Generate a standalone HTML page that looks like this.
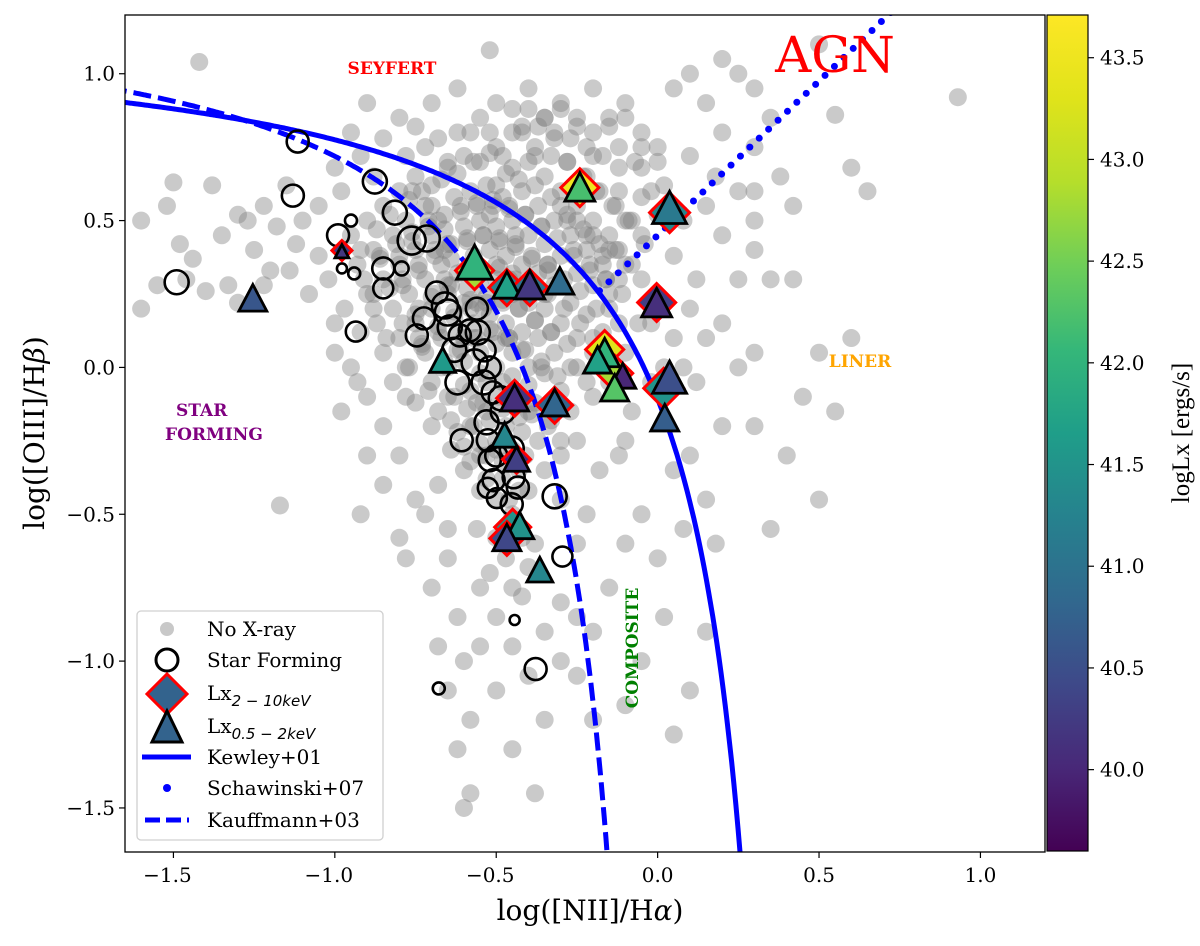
<!DOCTYPE html>
<html><head><meta charset="utf-8">
<style>
html,body{margin:0;padding:0;background:#fff;}
svg{display:block;font-family:"DejaVu Serif","Liberation Serif",serif;}
</style></head>
<body>
<svg id="chart" width="1200" height="946" viewBox="0 0 1200 946">
<defs>
<clipPath id="plotclip"><rect x="125" y="15" width="920" height="837"/></clipPath>
<linearGradient id="viridis" x1="0" y1="1" x2="0" y2="0">
<stop offset="0" stop-color="#440154"/><stop offset="0.1" stop-color="#482878"/><stop offset="0.2" stop-color="#3e4989"/>
<stop offset="0.3" stop-color="#31688e"/><stop offset="0.4" stop-color="#26828e"/><stop offset="0.5" stop-color="#1f9e89"/>
<stop offset="0.6" stop-color="#35b779"/><stop offset="0.7" stop-color="#6ece58"/><stop offset="0.8" stop-color="#b5de2b"/>
<stop offset="0.9" stop-color="#e0e31a"/><stop offset="1" stop-color="#fde725"/>
</linearGradient>
</defs>
<rect x="125" y="15" width="920" height="837" fill="#fff"/>
<g id="plot" clip-path="url(#plotclip)"></g>
<rect x="125" y="15" width="920" height="837" fill="none" stroke="#000" stroke-width="1.3"/>
<g id="axes"></g>
<g font-weight="bold">
<text x="392" y="74" fill="#ff0000" style="font-size:17px" text-anchor="middle">SEYFERT</text>
<text x="835" y="72" fill="#ff0000" style="font-size:50px" font-weight="normal" text-anchor="middle">AGN</text>
<text x="860" y="367" fill="#ffa500" style="font-size:17px" text-anchor="middle">LINER</text>
<text x="176" y="416" fill="#800080" style="font-size:17px">STAR</text>
<text x="165" y="440" fill="#800080" style="font-size:17px">FORMING</text>
<text transform="translate(638,648) rotate(-90)" fill="#008000" style="font-size:17px" text-anchor="middle">COMPOSITE</text>
</g>
<g id="legend" style="font-size:20px">
<rect x="137" y="611" width="246" height="229" rx="4" fill="#fff" fill-opacity="0.85" stroke="#d0d0d0" stroke-width="1.3"/>
<circle cx="167" cy="629" r="7" fill="#c8c8c8"/>
<text x="207" y="636">No X-ray</text>
<circle cx="167" cy="660" r="11" fill="none" stroke="#000" stroke-width="3"/>
<text x="207" y="667">Star Forming</text>
<polygon points="167,674 187,694 167,714 147,694" fill="#33638d" stroke="#ff0000" stroke-width="3"/>
<text x="207" y="700">Lx<tspan style="font-size:15px" dy="6" font-style="italic" font-family="DejaVu Sans, sans-serif">2 − 10keV</tspan></text>
<polygon points="167,711 182,742 152,742" fill="#33638d" stroke="#000" stroke-width="3"/>
<text x="207" y="733">Lx<tspan style="font-size:15px" dy="6" font-style="italic" font-family="DejaVu Sans, sans-serif">0.5 − 2keV</tspan></text>
<line x1="142" y1="757" x2="191" y2="757" stroke="#0000ff" stroke-width="5"/>
<text x="207" y="764">Kewley+01</text>
<circle cx="167" cy="788" r="4" fill="#0000ff"/>
<text x="207" y="795">Schawinski+07</text>
<line x1="145" y1="820" x2="189" y2="820" stroke="#0000ff" stroke-width="5" stroke-dasharray="15,6"/>
<text x="207" y="827">Kauffmann+03</text>
</g>
<rect x="1047" y="15" width="41" height="836" fill="url(#viridis)" stroke="#000" stroke-width="1.2"/>
<g id="cbar" font-family="DejaVu Serif, serif"></g>
<text transform="translate(1189,433) rotate(-90)" style="font-size:25px" text-anchor="middle" font-family="Liberation Serif, serif">logLx [ergs/s]</text>
<text x="590" y="920" style="font-size:28px" text-anchor="middle">log([NII]/H<tspan font-style="italic">α</tspan>)</text>
<text transform="translate(44,433) rotate(-90)" style="font-size:28px" text-anchor="middle">log([OIII]/H<tspan font-style="italic">β</tspan>)</text>
</svg>
<script>
const xTicks=[-1.5,-1.0,-0.5,0.0,0.5,1.0];
const yTicks=[-1.5,-1.0,-0.5,0.0,0.5,1.0];
const cTicks=[40.0,40.5,41.0,41.5,42.0,42.5,43.0,43.5];
const grayX=[-1.6,-1.5,-1.48,-1.52,-1.44,-1.38,-1.35,-1.3,-1.25,-1.22,-1.2,-1.18,-1.15,-1.12,-1.46,-1.4,-1.3,-1.6,-1.42,-1.33,-1.27,-1.22,-1.14,-1.1,-1.05,-1.05,-1.08,-1.0,-1.02,-1.17,-1.55,
-0.9,-0.8,-0.7,-0.62,-0.55,-0.5,-0.45,-0.4,-0.35,-0.3,-0.25,-0.2,-0.15,-0.1,-0.05,0,0.05,0.1,0.15,0.2,0.25,0.3,0.35,0.3,0.38,0.3,0.42,0.55,0.6,0.65,0.93,0.5,-0.52,-0.58,-0.68,-0.75,-0.85,-0.92,-0.65,-0.48,-0.38,-0.28,-0.2,-0.12,-0.05,0.02,0.1,0.2,0.3,0.3,0.35,0.25,0.15,0.12,0.2,0.42,0.3,0.25,0.3,0.45,0.55,0.5,0.6,0.4,0.5,0.35,0.18,0.15,0.1,0.2,0.05,0.08,0.0,0.02,0.15,0.1,0.05,-0.05,-0.1,-0.15,-0.05,-0.1,-0.2,-0.25,-0.3,-0.3,-0.25,-0.35,-0.4,-0.45,-0.38,-0.5,-0.55,-0.6,-0.62,-0.58,-0.6,-0.7,-0.65,-0.55,-0.5,-0.45,-0.42,-0.35,-0.2,-0.18,-0.22,-0.12,-0.08,-0.02,-0.02,-0.05,-0.1,-0.15,-0.2,-0.25,-0.2,-0.25,-0.3,-0.3,-0.25,-0.12,-0.05,0.05,0.12,0.1,0.05,0.02,0.08,-0.75,-0.8,-0.85,-0.9,-0.78,-0.7,-0.72,-0.68,-0.65,-0.8,-0.95,-1.0,-0.92,-0.88,
-0.95,-0.9,-0.85,-0.8,-0.75,-0.7,-0.65,-0.6,-0.55,-0.5,-0.45,-0.4,-0.35,-0.3,-0.25,-0.2,-0.15,-0.1,
-0.93,-0.88,-0.82,-0.78,-0.72,-0.68,-0.63,-0.58,-0.53,-0.48,-0.42,-0.37,-0.32,-0.27,-0.22,-0.17,
-0.9,-0.85,-0.8,-0.75,-0.7,-0.65,-0.6,-0.55,-0.5,-0.45,-0.4,-0.35,-0.3,-0.25,-0.2,-0.15,
-0.87,-0.82,-0.77,-0.72,-0.67,-0.62,-0.57,-0.52,-0.47,-0.42,-0.37,-0.32,-0.27,-0.22,-0.17,
-0.85,-0.8,-0.75,-0.7,-0.65,-0.6,-0.55,-0.5,-0.45,-0.4,-0.35,-0.3,-0.25,-0.2,
-0.82,-0.77,-0.72,-0.67,-0.62,-0.57,-0.52,-0.47,-0.42,-0.37,-0.32,-0.27,-0.22,
-0.75,-0.7,-0.65,-0.6,-0.55,-0.5,-0.45,-0.4,-0.35,-0.3,-0.27,
-0.68,-0.63,-0.58,-0.53,-0.48,-0.43,-0.38,-0.33,-0.3,
-0.62,-0.57,-0.52,-0.47,-0.42,-0.37,-0.35,
-0.58,-0.53,-0.48,-0.43,-0.4,-0.55,-0.5,-0.45,-0.42,-0.5,-0.47,-0.4,-0.52,-0.45,-0.38,-0.56,
-0.78,-0.72,-0.62,-0.52,-0.42,-0.32,-0.22,-0.12,-0.08,-0.12,-0.15,-0.1,0.0,-0.05,0.08,0.15,0.2,0.18,0.25,
-0.98,-1.0,-0.95,-0.88,-0.97,-0.93,-0.98,-0.9,-0.85,-0.92,-0.78,-0.68,-0.65,-0.58,-0.62,
-0.6,-0.66,-0.74,-0.56,-0.46,-0.36,-0.64,-0.44,-0.54,-0.34,-0.7,-0.5,-0.4,-0.6,-0.52,-0.46,-0.56,-0.66,-0.76,-0.86,
-0.92,-0.87,-0.83,-0.77,-0.73,-0.67,-0.62,-0.57,-0.52,-0.47,-0.43,-0.38,-0.33,-0.28,-0.23,-0.18,-0.13,
-0.91,-0.86,-0.81,-0.76,-0.71,-0.66,-0.61,-0.56,-0.51,-0.46,-0.41,-0.36,-0.31,-0.26,-0.21,-0.16,
-0.88,-0.83,-0.79,-0.74,-0.69,-0.64,-0.59,-0.54,-0.49,-0.44,-0.39,-0.34,-0.29,-0.24,-0.19,
-0.84,-0.79,-0.74,-0.69,-0.64,-0.59,-0.54,-0.49,-0.44,-0.39,-0.34,-0.29,-0.24,
-0.78,-0.73,-0.68,-0.63,-0.58,-0.53,-0.48,-0.43,-0.38,-0.33,-0.28,
-0.71,-0.66,-0.61,-0.56,-0.51,-0.46,-0.41,-0.36,-0.31,
-0.64,-0.59,-0.54,-0.49,-0.44,-0.39,-0.34,-0.6,-0.55,-0.5,-0.45,-0.41,-0.53,-0.48,-0.43,
-0.45,-0.4,-0.35,-0.3,-0.25,-0.2,-0.15,-0.1,-0.05,0.0,-0.42,-0.37,-0.32,-0.27,-0.22,-0.17,-0.12,-0.07,-0.02,-0.38,-0.33,-0.28,-0.23,-0.18,-0.13,-0.08,
-0.3,-0.25,-0.2,-0.15,-0.1,-0.28,-0.22,-0.17,-0.12,-0.24,-0.19,-0.14,-0.09,-0.04,-0.26,-0.21,-0.16,-0.11,-0.06,
-0.8,-0.76,-0.71,-0.66,-0.61,-0.56,-0.51,-0.46,-0.41,-0.36,-0.79,-0.74,-0.69,-0.64,-0.59,-0.54,-0.49,-0.44,-0.39,-0.34,
-0.75,-0.7,-0.65,-0.6,-0.55,-0.5,-0.45,-0.4,-0.35,-0.73,-0.68,-0.63,-0.58,-0.53,-0.48,-0.43,-0.38,-0.33,
-0.67,-0.62,-0.57,-0.52,-0.47,-0.42,-0.65,-0.6,-0.55,-0.5,-0.45,-0.4,-0.58,-0.53,-0.48,-0.43,-0.55,-0.5,-0.46];
const grayY=[0.5,0.63,0.42,0.55,0.37,0.62,0.45,0.52,0.4,0.55,0.33,0.48,0.62,0.42,0.3,0.26,0.22,0.2,1.04,0.28,0.5,0.28,0.33,0.5,0.55,0.38,0.25,0.15,0.3,-0.47,0.28,
0.9,0.85,0.9,0.95,0.85,0.9,0.8,0.95,0.85,0.9,0.82,0.95,0.85,0.9,0.8,0.75,0.95,1.0,0.9,1.05,1.0,0.95,0.85,0.75,0.65,0.6,0.55,0.86,0.68,0.6,0.92,1.1,1.08,0.8,0.78,0.82,0.78,0.72,0.7,0.72,0.75,0.7,0.72,0.75,0.68,0.62,0.72,0.8,0.5,0.4,0.3,0.3,0.1,-0.05,0.15,0.3,0.05,0.0,-0.2,-0.1,-0.15,0.05,0.1,-0.3,-0.45,-0.55,-0.6,-0.45,-0.3,-0.2,-0.35,-0.55,-0.65,-0.85,-0.9,-1.1,-1.25,-0.5,-0.6,-0.75,-1.0,-1.15,-0.9,-0.85,-0.8,-1.0,-1.05,-1.2,-1.05,-1.3,-1.45,-1.1,-0.95,-1.0,-0.85,-1.45,-1.5,-0.75,-0.65,-0.75,-0.85,-0.95,-0.78,-0.9,-1.2,-0.35,-0.5,-0.3,-0.15,-0.05,0.15,0.3,0.05,0.2,0.1,0.0,-0.1,-0.25,-0.3,-0.45,-0.6,0.4,0.45,0.38,0.3,0.2,0.1,0.0,0.0,-0.45,-0.3,-0.2,-0.1,-0.1,-0.2,-0.5,-0.4,-0.55,-0.58,0.0,0.05,0.12,0.25,
0.45,0.5,0.55,0.6,0.65,0.62,0.68,0.72,0.7,0.75,0.68,0.7,0.65,0.6,0.55,0.5,0.45,0.5,
0.35,0.4,0.45,0.5,0.55,0.5,0.58,0.6,0.62,0.58,0.6,0.55,0.5,0.45,0.4,0.35,
0.25,0.3,0.35,0.4,0.45,0.42,0.48,0.5,0.48,0.5,0.45,0.42,0.38,0.32,0.28,0.25,
0.15,0.2,0.25,0.3,0.35,0.32,0.38,0.4,0.38,0.35,0.32,0.28,0.22,0.18,0.12,
0.05,0.1,0.15,0.2,0.25,0.22,0.28,0.3,0.25,0.22,0.2,0.15,0.1,0.05,
-0.05,0.0,0.05,0.1,0.12,0.15,0.18,0.15,0.12,0.1,0.05,0.0,-0.05,
-0.12,-0.05,0.0,0.02,0.05,0.08,0.05,0.0,-0.02,-0.08,-0.15,
-0.15,-0.1,-0.08,-0.05,-0.05,-0.1,-0.12,-0.18,-0.25,
-0.22,-0.2,-0.18,-0.2,-0.22,-0.25,-0.35,
-0.32,-0.3,-0.32,-0.35,-0.42,-0.42,-0.45,-0.5,-0.58,-0.58,-0.65,-0.68,-0.7,-0.75,-0.6,-0.55,
0.72,0.75,0.8,0.8,0.82,0.78,0.65,0.6,0.35,0.15,-0.05,-0.25,0.52,0.58,0.5,0.55,0.45,0.65,0.6,
0.6,0.68,0.8,0.65,0.2,-0.05,-0.15,-0.3,-0.4,-0.5,-0.65,-0.95,-1.1,-1.2,-1.3,
0.1,0.3,0.1,-0.12,0.3,0.0,-0.28,0.45,0.2,0.35,0.55,0.62,-0.15,-0.35,0.52,0.1,0.22,0.4,0.6,0.38,
0.4,0.47,0.52,0.57,0.6,0.64,0.66,0.7,0.73,0.66,0.64,0.62,0.58,0.52,0.47,0.42,0.4,
0.3,0.37,0.42,0.46,0.5,0.47,0.53,0.55,0.55,0.54,0.52,0.48,0.44,0.38,0.33,0.3,
0.2,0.27,0.3,0.35,0.4,0.37,0.43,0.45,0.43,0.42,0.38,0.35,0.3,0.26,0.2,
0.1,0.15,0.2,0.25,0.28,0.27,0.33,0.34,0.3,0.28,0.25,0.2,0.15,
-0.0,0.07,0.12,0.17,0.2,0.22,0.22,0.2,0.16,0.12,0.08,
-0.08,0.02,0.06,0.1,0.12,0.1,0.06,0.02,-0.03,
-0.18,-0.14,-0.12,-0.1,-0.12,-0.16,-0.2,-0.27,-0.26,-0.25,-0.28,-0.3,-0.38,-0.38,-0.42,
0.88,0.88,0.85,0.88,0.85,0.8,0.82,0.85,0.75,0.7,0.8,0.82,0.8,0.78,0.75,0.72,0.68,0.7,0.6,0.72,0.72,0.7,0.65,0.6,0.55,0.5,
0.55,0.5,0.45,0.4,0.35,0.5,0.45,0.38,0.3,0.62,0.6,0.55,0.5,0.42,0.4,0.35,0.3,0.25,0.15,
0.38,0.43,0.48,0.52,0.55,0.56,0.57,0.55,0.52,0.48,0.28,0.33,0.38,0.42,0.44,0.45,0.44,0.41,0.37,0.33,
0.18,0.24,0.28,0.33,0.34,0.35,0.32,0.29,0.25,0.08,0.14,0.19,0.23,0.24,0.23,0.2,0.16,0.12,
0.0,0.06,0.1,0.13,0.1,0.06,-0.1,-0.06,-0.02,0.0,-0.03,-0.06,-0.2,-0.15,-0.14,-0.17,-0.3,-0.28,-0.45];
const sfX=[-1.115,-1.13,-0.876,-0.95,-0.99,-0.814,-0.762,-0.715,-0.978,-0.94,-0.85,-0.85,-0.793,-0.935,-1.49,-0.684,-0.659,-0.65,-0.644,-0.613,-0.582,-0.557,-0.746,-0.724,-0.536,-0.52,-0.539,-0.567,-0.62,-0.511,-0.486,-0.526,-0.607,-0.52,-0.508,-0.53,-0.452,-0.446,-0.526,-0.498,-0.433,-0.452,-0.319,-0.295,-0.443,-0.678,-0.378,-0.63,-0.56,-0.48,-0.5];
const sfY=[0.769,0.585,0.633,0.5,0.45,0.527,0.432,0.439,0.337,0.32,0.337,0.269,0.337,0.122,0.29,0.255,0.211,0.187,0.136,0.109,0.126,0.119,0.109,0.167,0.058,0.0,-0.051,0.017,-0.051,-0.085,-0.105,-0.248,-0.248,-0.316,-0.384,-0.187,-0.276,-0.374,-0.41,-0.445,-0.409,-0.466,-0.439,-0.644,-0.86,-1.093,-1.027,0.06,0.2,-0.15,-0.3];
const sfR=[11,11,12,6,11,12,14,13,5,6,11,10,7,10,12,11,13,13,12,11,11,12,11,11,11,11,12,13,12,11,12,11,11,11,11,12,12,11,10,10,11,11,12,10,5,6,11,12,11,12,11];
const dX=[-0.241,0.037,-0.978,-0.567,-0.467,-0.396,-0.003,-0.164,-0.133,0.019,-0.443,-0.319,-0.437,-0.449,-0.467];
const dY=[0.612,0.527,0.398,0.33,0.272,0.272,0.221,0.061,-0.02,-0.071,-0.105,-0.129,-0.313,-0.544,-0.582];
const dV=[43.5,41.3,40.3,42.8,41.2,41.0,40.3,43.3,42.8,41.5,40.2,40.8,40.0,41.5,40.5];
const dS=[19,20,10,19,18,18,19,19,18,20,18,18,14,18,17];
const tX=[-0.241,0.037,-0.978,-0.567,-0.467,-0.396,-0.303,-0.003,-0.164,-0.186,-0.108,-0.133,0.037,0.022,-0.443,-0.319,-0.474,-0.437,-0.666,-1.254,-0.427,-0.467,-0.365];
const tY=[0.605,0.534,0.391,0.347,0.272,0.272,0.286,0.211,0.041,0.017,-0.037,-0.078,-0.044,-0.18,-0.112,-0.129,-0.238,-0.32,0.017,0.228,-0.547,-0.588,-0.697];
const tV=[42.2,41.1,40.2,42.0,41.7,40.2,40.9,40.1,42.0,41.7,40.0,42.3,40.5,40.7,40.1,40.8,41.3,40.3,41.6,40.6,41.5,40.4,41.3];
const tS=[30,34,14,36,28,30,28,30,30,28,26,28,34,28,28,28,26,26,26,28,28,28,26];

const X0=125,X1=1045,Y0=15,Y1=852,xmin=-1.65,xmax=1.2,ymin=-1.65,ymax=1.2;
const cmin=39.6,cmax=43.71;
const sx=v=>X0+(v-xmin)/(xmax-xmin)*(X1-X0);
const sy=v=>Y1-(v-ymin)/(ymax-ymin)*(Y1-Y0);
const sc=v=>851-(v-cmin)/(cmax-cmin)*(851-15);
const NS="http://www.w3.org/2000/svg";
const vir=[[68,1,84],[72,40,120],[62,73,137],[49,104,142],[38,130,142],[31,158,137],[53,183,121],[110,206,88],[181,222,43],[224,227,26],[253,231,37]];
function vcol(v){let t=(v-cmin)/(cmax-cmin);t=Math.max(0,Math.min(1,t))*10;const i=Math.min(9,Math.floor(t)),f=t-i;
const c=vir[i].map((a,k)=>Math.round(a+(vir[i+1][k]-a)*f));return `rgb(${c[0]},${c[1]},${c[2]})`;}
function mk(tag,attrs,parent){const e=document.createElementNS(NS,tag);for(const k in attrs)e.setAttribute(k,attrs[k]);parent.appendChild(e);return e;}
const plot=document.getElementById('plot'),axes=document.getElementById('axes'),cbar=document.getElementById('cbar');

const gG=mk('g',{},plot);


for(let i=0;i<grayX.length;i++){const c=mk('circle',{cx:sx(grayX[i]),cy:sy(grayY[i]),r:9,fill:'#808080','fill-opacity':0.42},gG);

}

function curve(f,xa,xb){let d='';for(let i=0;i<=300;i++){const x=xa+(xb-xa)*i/300;const y=f(x);d+=(i?'L':'M')+sx(x).toFixed(1)+','+sy(y).toFixed(1);}return d;}
const kew=mk('path',{d:curve(x=>0.61/(x-0.47)+1.19,-1.7,0.262),fill:'none',stroke:'#0000ff','stroke-width':5},plot);


const kau=mk('path',{d:curve(x=>0.61/(x-0.05)+1.3,-1.7,-0.15),fill:'none',stroke:'#0000ff','stroke-width':5,'stroke-dasharray':'18,7'},plot);


const sch=mk('path',{d:curve(x=>1.05*x+0.45,-0.18,0.75),fill:'none',stroke:'#0000ff','stroke-width':7,'stroke-linecap':'round','stroke-dasharray':'0,13'},plot);



const sG=mk('g',{},plot);


for(let i=0;i<sfX.length;i++){const c=mk('circle',{cx:sx(sfX[i]),cy:sy(sfY[i]),r:sfR[i],fill:'none',stroke:'#000','stroke-width':2.6},sG);

}

const dG=mk('g',{},plot);


for(let i=0;i<dX.length;i++){const x=sx(dX[i]),y=sy(dY[i]),s=dS[i];
const p=mk('polygon',{points:`${x},${y-s} ${x+s},${y} ${x},${y+s} ${x-s},${y}`,fill:vcol(dV[i]),stroke:'#ff0000','stroke-width':3},dG);

}

const tG=mk('g',{},plot);


for(let i=0;i<tX.length;i++){const x=sx(tX[i]),y=sy(tY[i]),s=tS[i],h=s*0.95;
const p=mk('polygon',{points:`${x},${y-h*0.6} ${x+s/2},${y+h*0.4} ${x-s/2},${y+h*0.4}`,fill:vcol(tV[i]),stroke:'#000','stroke-width':2.8},tG);

}

xTicks.forEach(v=>{const x=sx(v);mk('line',{x1:x,y1:Y1,x2:x,y2:Y1+6,stroke:'#000','stroke-width':1.2},axes);
const t=mk('text',{x:x-(v<0?6:0),y:Y1+30,'text-anchor':'middle',style:'font-size:20px'},axes);t.textContent=(v<0?'\u2212':'')+Math.abs(v).toFixed(1);

});
yTicks.forEach(v=>{const y=sy(v);mk('line',{x1:X0-6,y1:y,x2:X0,y2:y,stroke:'#000','stroke-width':1.2},axes);
const t=mk('text',{x:X0-10,y:y+7,'text-anchor':'end',style:'font-size:20px'},axes);t.textContent=(v<0?'\u2212':'')+Math.abs(v).toFixed(1);

});
cTicks.forEach(v=>{const y=sc(v);mk('line',{x1:1088,y1:y,x2:1094,y2:y,stroke:'#000','stroke-width':1.2},cbar);
const t=mk('text',{x:1100,y:y+7,style:'font-size:20px;font-family:"DejaVu Serif",serif'},cbar);t.textContent=v.toFixed(1);

});
</script>
</body></html>
